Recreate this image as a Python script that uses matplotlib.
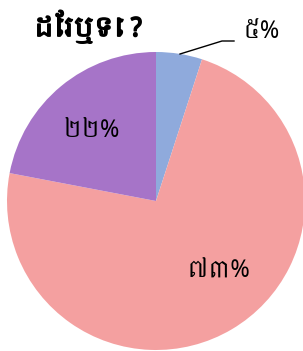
import matplotlib
matplotlib.use("Agg")
import matplotlib.pyplot as plt
import matplotlib.patheffects as pe
from matplotlib import font_manager as fm
import numpy as np

labels = ["៥%", "៧៣%", "២២%"]
values = [5, 73, 22]
colors = ["#8faadc", "#f4a0a0", "#a674c8"]
title = "ដែរឬទេ ?"

# find a font with Khmer glyphs if any
khmer_font = None
for f in fm.fontManager.ttflist:
    if "Khmer" in f.name:
        khmer_font = f.name
        break
fams = ([khmer_font] if khmer_font else []) + ["Noto Sans", "DejaVu Sans"]

fig = plt.figure(figsize=(3.03, 3.51), dpi=100)
W, H = 303, 351
cx, cy, r = 156, 201, 149
ax = fig.add_axes([(cx - r) / W, 1 - (cy + r) / H, 2 * r / W, 2 * r / H])
wedges, _ = ax.pie(values, colors=colors, startangle=90, counterclock=False,
                   radius=1.0)
ax.set_xlim(-1, 1)
ax.set_ylim(-1, 1)
ax.set_aspect("auto")
ax.axis("off")

def px(x, y):
    return ((x - cx) / r, (cy - y) / r)

# leader line for small slice
ax.plot(*zip(px(180, 54), px(222, 41), px(234, 41)), color="black", lw=1, clip_on=False)
ax.text(*px(261, 32), labels[0], ha="center", va="center", fontsize=17, family=fams, clip_on=False)
ax.text(*px(91, 131), labels[2], ha="center", va="center", fontsize=17, family=fams)
ax.text(*px(218, 272), labels[1], ha="center", va="center", fontsize=17, family=fams)

fig.text(34 / W, 1 - 27 / H, title, ha="left", va="center", fontsize=19,
         fontweight="bold", family=fams,
         path_effects=[pe.withStroke(linewidth=1.2, foreground="black")])

fig.savefig("out.png", dpi=100)
